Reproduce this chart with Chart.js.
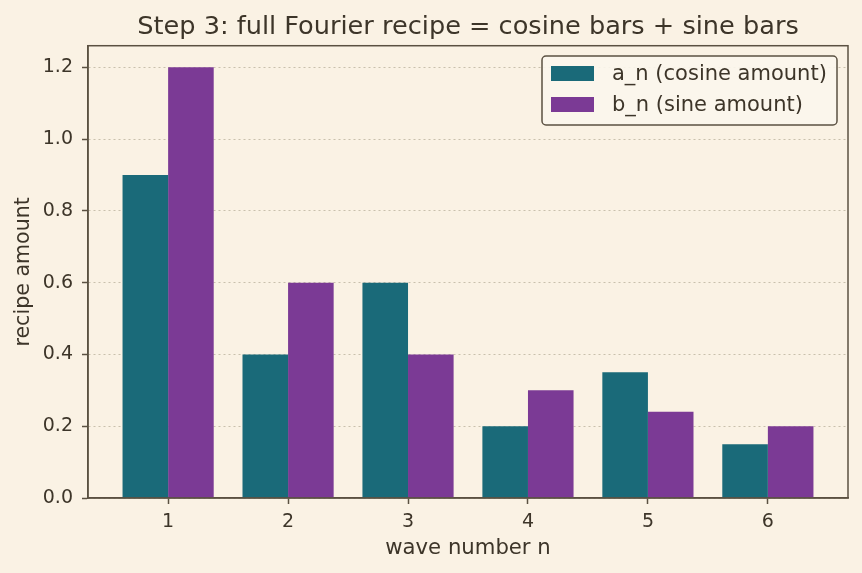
<!DOCTYPE html>
<html>
<head>
<meta charset="utf-8">
<script src="https://cdn.jsdelivr.net/npm/chart.js@4/dist/chart.umd.min.js"></script>
<style>
  html, body { margin: 0; padding: 0; background: #faf2e4; }
  #wrap { width: 862px; height: 573px; }
</style>
</head>
<body>
<div id="wrap"><canvas id="chart" width="862" height="573"></canvas></div>
<script>
// Wave numbers and recipe amounts
const waveNumbers = [1, 2, 3, 4, 5, 6];
const cosineAmounts = [0.9, 0.4, 0.6, 0.2, 0.35, 0.15];
const sineAmounts = [1.2, 0.6, 0.4, 0.3, 0.24, 0.2];
const yTicks = [0, 0.2, 0.4, 0.6, 0.8, 1.0, 1.2];

const INK = '#3d3529';
const SPINE = '#5b5142';
const BG = '#faf2e4';
const FONT = 'DejaVu Sans';

// Frame (top/right spines) and legend box
const framePlugin = {
  id: 'frame',
  beforeDraw(chart) {
    const ctx = chart.ctx;
    ctx.save();
    ctx.fillStyle = BG;
    ctx.fillRect(0, 0, chart.width, chart.height);
    ctx.restore();
  },
  afterDraw(chart) {
    const ctx = chart.ctx;
    const a = chart.chartArea;
    ctx.save();
    ctx.strokeStyle = SPINE;
    ctx.lineWidth = 1.5;
    ctx.strokeRect(a.left, a.top, a.right - a.left, a.bottom - a.top);

    // legend
    const x = 542, y = 56, w = 295, h = 69;
    ctx.beginPath();
    ctx.roundRect(x, y, w, h, 4);
    ctx.fillStyle = 'rgba(251, 246, 236, 0.9)';
    ctx.fill();
    ctx.lineWidth = 1.5;
    ctx.strokeStyle = SPINE;
    ctx.stroke();
    ctx.font = '21px "' + FONT + '"';
    ctx.textBaseline = 'middle';
    chart.data.datasets.forEach((ds, i) => {
      const cy = 73 + i * 31;
      ctx.fillStyle = ds.backgroundColor;
      ctx.fillRect(551, cy - 7, 43, 15);
      ctx.fillStyle = INK;
      ctx.fillText(ds.label, 612, cy + 1.5);
    });
    ctx.restore();
  }
};

new Chart(document.getElementById('chart').getContext('2d'), {
  type: 'bar',
  data: {
    datasets: [
      {
        label: 'a_n (cosine amount)',
        data: waveNumbers.map((n, i) => ({ x: n, y: cosineAmounts[i] })),
        backgroundColor: '#1a6a79'
      },
      {
        label: 'b_n (sine amount)',
        data: waveNumbers.map((n, i) => ({ x: n, y: sineAmounts[i] })),
        backgroundColor: '#7b3a95'
      }
    ]
  },
  options: {
    responsive: false,
    animation: false,
    devicePixelRatio: 1,
    categoryPercentage: 0.76,
    barPercentage: 1.0,
    layout: { padding: { left: 0, top: 0, right: 14, bottom: 0 } },
    plugins: {
      legend: { display: false },
      tooltip: { enabled: false },
      title: {
        display: true,
        fullSize: false,
        text: 'Step 3: full Fourier recipe = cosine bars + sine bars',
        color: INK,
        font: { family: FONT, size: 25.6, weight: 'normal' },
        padding: { top: 12, bottom: 3 }
      }
    },
    scales: {
      x: {
        type: 'linear',
        offset: false,
        min: 0.332,
        max: 6.668,
        afterFit: s => { s.height = 75; },
        afterBuildTicks: s => { s.ticks = waveNumbers.map(v => ({ value: v })); },
        grid: { display: true, offset: false, drawOnChartArea: false, drawTicks: true, tickLength: 6, tickColor: SPINE, tickWidth: 1.5, tickBorderDash: [] },
        border: { display: true, color: SPINE, width: 1.5 },
        ticks: { color: INK, padding: 7, font: { family: FONT, size: 19 } },
        title: {
          display: true,
          text: 'wave number n',
          color: INK,
          font: { family: FONT, size: 21.2 },
          padding: { top: 0, bottom: 12 }
        }
      },
      y: {
        min: 0,
        max: 1.26,
        afterFit: s => { s.width = 88; },
        afterBuildTicks: s => { s.ticks = yTicks.map(v => ({ value: v })); },
        grid: {
          color: '#c9c0ad',
          lineWidth: 1,
          tickBorderDash: [],
          tickLength: 6,
          tickColor: SPINE,
          tickWidth: 1.5
        },
        border: { display: true, color: SPINE, width: 1.5, dash: [2, 3] },
        ticks: {
          color: INK,
          padding: 9,
          font: { family: FONT, size: 19 },
          callback: v => v.toFixed(1)
        },
        title: {
          display: true,
          text: 'recipe amount',
          color: INK,
          font: { family: FONT, size: 20.6 },
          padding: { top: 11, bottom: 0 }
        }
      }
    }
  },
  plugins: [framePlugin]
});
</script>
</body>
</html>
